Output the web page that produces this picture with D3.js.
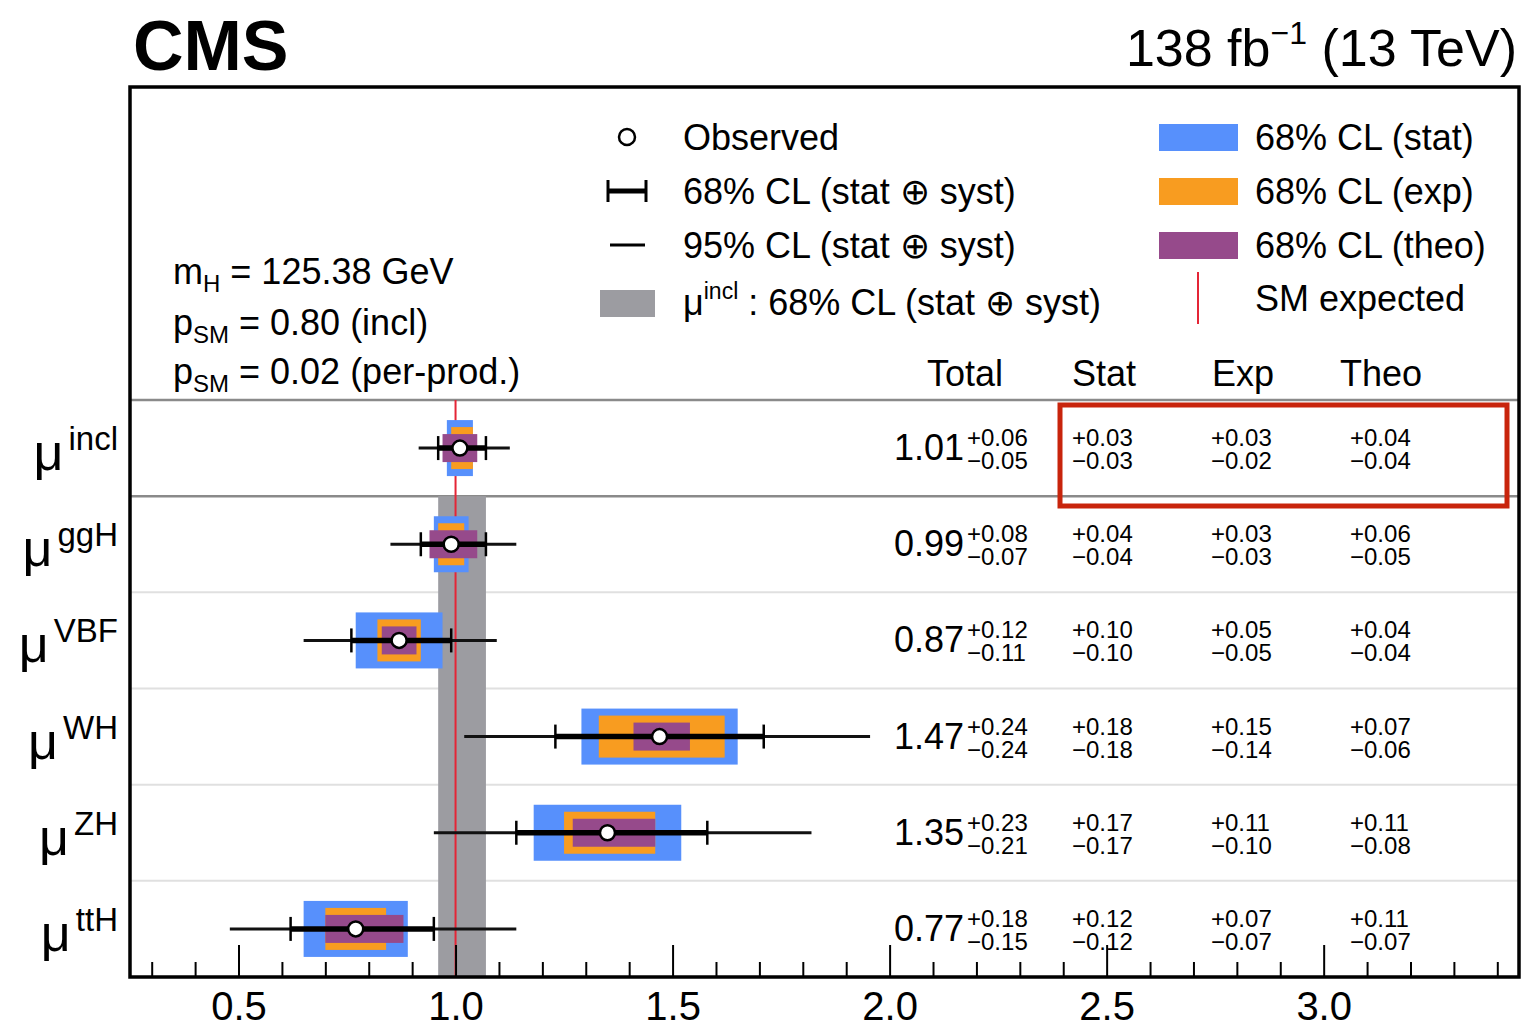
<!DOCTYPE html>
<html><head><meta charset="utf-8">
<script src="https://cdn.jsdelivr.net/npm/d3@7"></script>
<style>
html,body{margin:0;padding:0;background:#fff;}
svg{display:block;font-family:"Liberation Sans",Arial,Helvetica,sans-serif;}
</style></head>
<body>
<svg id="c" width="1522" height="1031"></svg>
<script>
// ---- data ----
const rows    = ["incl","ggH","VBF","WH","ZH","ttH"];
const mu      = [1.01, 0.99, 0.87, 1.47, 1.35, 0.77];
const totHi   = [0.06, 0.08, 0.12, 0.24, 0.23, 0.18];
const totLo   = [0.05, 0.07, 0.11, 0.24, 0.21, 0.15];
const statHi  = [0.03, 0.04, 0.10, 0.18, 0.17, 0.12];
const statLo  = [0.03, 0.04, 0.10, 0.18, 0.17, 0.12];
const expHi   = [0.03, 0.03, 0.05, 0.15, 0.11, 0.07];
const expLo   = [0.02, 0.03, 0.05, 0.14, 0.10, 0.07];
const theoHi  = [0.04, 0.06, 0.04, 0.07, 0.11, 0.11];
const theoLo  = [0.04, 0.05, 0.04, 0.06, 0.08, 0.07];
const ci95Lo  = [0.915, 0.85, 0.65, 1.02, 0.95, 0.48];
const ci95Hi  = [1.125, 1.14, 1.095, 1.955, 1.82, 1.14];
const inclBand = [0.96, 1.07];
const smValue = 1.0;
const majorTicks = [0.5, 1.0, 1.5, 2.0, 2.5, 3.0];
const minorTicks = [0.3,0.4,0.6,0.7,0.8,0.9,1.1,1.2,1.3,1.4,1.6,1.7,1.8,1.9,2.1,2.2,2.3,2.4,2.6,2.7,2.8,2.9,3.1,3.2,3.3,3.4];
const headers = ["Total","Stat","Exp","Theo"];

// ---- colours ----
const cBlue="#5790fc", cOrange="#f89c20", cPurple="#964a8b", cRed="#e42536", cGray="#9c9ca1";

const svg = d3.select("#c");
const L=130, R=1519, T=87, B=977, HB=400;
const x = d3.scaleLinear().domain([0.25,3.45]).range([L,R]);
const y = d3.scaleBand().domain(rows).range([HB,B]).padding(0);
const bw = y.bandwidth();
const cy = r => y(r)+bw/2;
const f2 = v => v.toFixed(2);

// row separators
rows.forEach((r,i)=>{
  if(i===0) return;
  svg.append("line").attr("x1",L).attr("x2",R).attr("y1",y(r)).attr("y2",y(r))
    .attr("stroke", i===1 ? "#8a8a8a" : "#e0e0e0").attr("stroke-width", i===1?2.5:2);
});
svg.append("line").attr("x1",L).attr("x2",R).attr("y1",HB).attr("y2",HB)
  .attr("stroke","#8a8a8a").attr("stroke-width",2.5);

// incl band
svg.append("rect").attr("x",x(inclBand[0])).attr("width",x(inclBand[1])-x(inclBand[0]))
  .attr("y",y(rows[1])).attr("height",B-y(rows[1])).attr("fill",cGray);
// SM line
svg.append("line").attr("x1",x(smValue)).attr("x2",x(smValue)).attr("y1",HB).attr("y2",B)
  .attr("stroke",cRed).attr("stroke-width",2);

// boxes
const boxes = [
  {hi:statHi, lo:statLo, c:cBlue, h:56},
  {hi:expHi, lo:expLo, c:cOrange, h:42},
  {hi:theoHi, lo:theoLo, c:cPurple, h:28}
];
boxes.forEach(b=>{
  svg.append("g").selectAll("rect").data(rows).join("rect")
    .attr("x",(r,i)=>x(mu[i]-b.lo[i])).attr("width",(r,i)=>x(mu[i]+b.hi[i])-x(mu[i]-b.lo[i]))
    .attr("y",r=>cy(r)-b.h/2).attr("height",b.h).attr("fill",b.c);
});
// 95% lines
svg.append("g").selectAll("line").data(rows).join("line")
  .attr("x1",(r,i)=>x(ci95Lo[i])).attr("x2",(r,i)=>x(ci95Hi[i]))
  .attr("y1",cy).attr("y2",cy).attr("stroke","#111").attr("stroke-width",3);
// 68% bars
svg.append("g").selectAll("line").data(rows).join("line")
  .attr("x1",(r,i)=>x(mu[i]-totLo[i])).attr("x2",(r,i)=>x(mu[i]+totHi[i]))
  .attr("y1",cy).attr("y2",cy).attr("stroke","#000").attr("stroke-width",5.5);
const caps = svg.append("g");
rows.forEach((r,i)=>{
  [mu[i]-totLo[i], mu[i]+totHi[i]].forEach(v=>{
    caps.append("line").attr("x1",x(v)).attr("x2",x(v)).attr("y1",cy(r)-12).attr("y2",cy(r)+12)
      .attr("stroke","#000").attr("stroke-width",2.5);
  });
});
// observed
svg.append("g").selectAll("circle").data(rows).join("circle")
  .attr("cx",(r,i)=>x(mu[i])).attr("cy",cy).attr("r",7.5)
  .attr("fill","#fff").attr("stroke","#000").attr("stroke-width",2.5);

// value text
const vt = svg.append("g");
rows.forEach((r,i)=>{
  const c = cy(r);
  vt.append("text").attr("x",964).attr("y",c+12).attr("text-anchor","end")
    .attr("font-size",36).text(f2(mu[i]));
  vt.append("text").attr("x",967).attr("y",c-2).attr("font-size",24).text("+"+f2(totHi[i]));
  vt.append("text").attr("x",967).attr("y",c+21).attr("font-size",24).text("\u2212"+f2(totLo[i]));
  const cols = [[statHi,statLo,1072],[expHi,expLo,1211],[theoHi,theoLo,1350]];
  cols.forEach(([h,l,xx])=>{
    vt.append("text").attr("x",xx).attr("y",c-2).attr("font-size",24).text("+"+f2(h[i]));
    vt.append("text").attr("x",xx).attr("y",c+21).attr("font-size",24).text("\u2212"+f2(l[i]));
  });
});
// headers
const hx=[965,1104,1243,1381];
headers.forEach((h,i)=>svg.append("text").attr("x",hx[i]).attr("y",386).attr("text-anchor","middle")
  .attr("font-size",36).text(h));

// row labels
rows.forEach(r=>{
  const t = svg.append("text").attr("x",118).attr("y",cy(r)+22).attr("text-anchor","end");
  t.append("tspan").attr("font-size",52).text("\u03bc");
  t.append("tspan").attr("font-size",33).attr("dx",5).attr("dy",-20).text(r);
});

// axis ticks
const axMinor = d3.axisBottom(x).tickValues(minorTicks).tickSize(-15).tickFormat("");
const axMajor = d3.axisBottom(x).tickValues(majorTicks).tickSize(-32).tickPadding(15).tickFormat(d3.format(".1f"));
const gmi = svg.append("g").attr("transform",`translate(0,${B})`).call(axMinor);
const gma = svg.append("g").attr("transform",`translate(0,${B})`).call(axMajor);
[gmi,gma].forEach(g=>{ g.select(".domain").remove(); g.selectAll(".tick line").attr("stroke","#000").attr("stroke-width",2); });
gma.selectAll("text").attr("font-size",40).attr("fill","#000").attr("font-family","'Liberation Sans',Arial,sans-serif");

// frame
svg.append("rect").attr("x",L).attr("y",T).attr("width",R-L).attr("height",B-T)
  .attr("fill","none").attr("stroke","#000").attr("stroke-width",3.5);

// highlight box
svg.append("rect").attr("x",1060).attr("y",405).attr("width",447).attr("height",101)
  .attr("fill","none").attr("stroke","#c8240c").attr("stroke-width",5);

// titles
svg.append("text").attr("x",133).attr("y",70).attr("font-size",70).attr("font-weight","bold").text("CMS");
const lumi = svg.append("text").attr("x",1517).attr("y",66).attr("text-anchor","end").attr("font-size",52);
lumi.append("tspan").text("138 fb");
lumi.append("tspan").attr("font-size",32).attr("dy",-22).text("\u22121");
lumi.append("tspan").attr("dy",22).text(" (13 TeV)");

// info text
const info = [["m","H"," = 125.38 GeV"],["p","SM"," = 0.80 (incl)"],["p","SM"," = 0.02 (per-prod.)"]];
const infoY = [284,335,384];
info.forEach((d,i)=>{
  const t = svg.append("text").attr("x",173).attr("y",infoY[i]).attr("font-size",36);
  t.append("tspan").text(d[0]);
  t.append("tspan").attr("font-size",24).attr("dy",8).text(d[1]);
  t.append("tspan").attr("dy",-8).text(d[2]);
});

// legend
const lg = svg.append("g").attr("font-size",36);
lg.append("circle").attr("cx",627).attr("cy",137).attr("r",8).attr("fill","#fff").attr("stroke","#000").attr("stroke-width",2.5);
lg.append("text").attr("x",683).attr("y",150).text("Observed");
lg.append("line").attr("x1",608).attr("x2",646).attr("y1",191).attr("y2",191).attr("stroke","#000").attr("stroke-width",5);
[608,646].forEach(xx=>lg.append("line").attr("x1",xx).attr("x2",xx).attr("y1",180).attr("y2",202).attr("stroke","#000").attr("stroke-width",3));
lg.append("text").attr("x",683).attr("y",204).text("68% CL (stat \u2295 syst)");
lg.append("line").attr("x1",610).attr("x2",645).attr("y1",245).attr("y2",245).attr("stroke","#000").attr("stroke-width",3);
lg.append("text").attr("x",683).attr("y",258).text("95% CL (stat \u2295 syst)");
lg.append("rect").attr("x",600).attr("y",290).attr("width",55).attr("height",27).attr("fill",cGray);
const lt = lg.append("text").attr("x",683).attr("y",315);
lt.append("tspan").text("\u03bc");
lt.append("tspan").attr("font-size",23).attr("dy",-16).text("incl");
lt.append("tspan").attr("dy",16).text(" : 68% CL (stat \u2295 syst)");

const rl = [[cBlue,"68% CL (stat)",124],[cOrange,"68% CL (exp)",178],[cPurple,"68% CL (theo)",232]];
rl.forEach(([c,t,yy])=>{
  lg.append("rect").attr("x",1159).attr("y",yy).attr("width",79).attr("height",27).attr("fill",c);
  lg.append("text").attr("x",1255).attr("y",yy+26).text(t);
});
lg.append("line").attr("x1",1198).attr("x2",1198).attr("y1",272).attr("y2",324).attr("stroke",cRed).attr("stroke-width",2);
lg.append("text").attr("x",1255).attr("y",311).text("SM expected");
</script>
</body></html>
